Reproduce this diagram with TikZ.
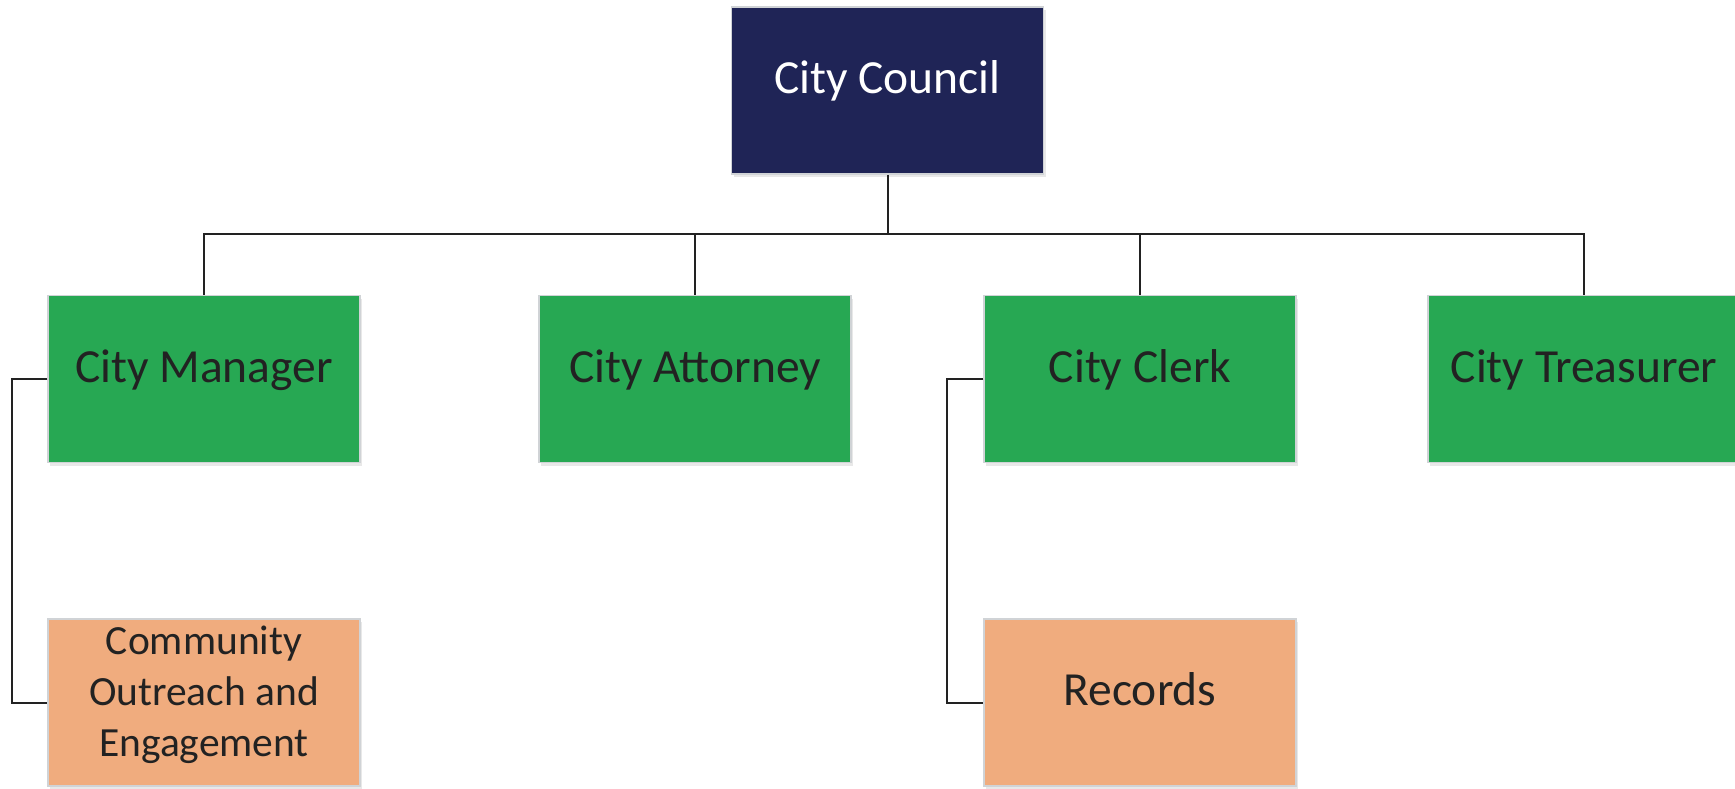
\documentclass[tikz,border=0pt]{standalone}
\usepackage{fontspec}
\setmainfont{Carlito}
\usetikzlibrary{shadows}
\definecolor{navy}{HTML}{1F2456}
\definecolor{leafgreen}{HTML}{27A853}
\definecolor{peach}{HTML}{F0AC7E}
\definecolor{rim}{HTML}{D0D3D6}
\definecolor{ink}{HTML}{222222}
\tikzset{
  orgbox/.style={rectangle, draw=rim, line width=1.5pt, minimum width=312pt, minimum height=167pt,
    inner sep=0pt, text=ink, font=\fontsize{47.5}{56}\selectfont,
    drop shadow={opacity=0.18, shadow xshift=2pt, shadow yshift=-3pt}},
  single/.style={text height=31pt, text depth=25pt},
  topbox/.style={orgbox, fill=navy, text=white},
  midbox/.style={orgbox, fill=leafgreen},
  lowbox/.style={orgbox, fill=peach},
  wire/.style={draw=ink, line width=2pt}
}
\begin{document}
\begin{tikzpicture}[x=1pt,y=-1pt]
\useasboundingbox (0,0) rectangle (1735,788);
\node[topbox, single] (council) at (887.5,90.5) {City Council};
\node[midbox, single] (manager) at (204,379) {City Manager};
\node[midbox, single] (attorney) at (695,379) {City Attorney};
\node[midbox, single] (clerk) at (1140,379) {City Clerk};
\node[midbox, single] (treasurer) at (1584,379) {City Treasurer};
\node[lowbox, font=\fontsize{41.5}{51}\selectfont] (outreach) at (204,702.5) {\raisebox{2pt}[75pt][75pt]{\parbox{300pt}{\centering Community\\Outreach and\\Engagement}}};
\node[lowbox, single] (records) at (1140,702.5) {Records};
\coordinate (bus) at (887.5,234);
\draw[wire] (council.south) -- (bus);
\draw[wire] (manager.north) |- (bus);
\draw[wire] (attorney.north) |- (bus);
\draw[wire] (clerk.north) |- (bus);
\draw[wire] (treasurer.north) |- (bus);
\coordinate (mgrrail) at (12,379);
\coordinate (clkrail) at (947,379);
\draw[wire] (manager.west) -- (mgrrail) |- (outreach.west);
\draw[wire] (clerk.west) -- (clkrail) |- (records.west);
\end{tikzpicture}
\end{document}
